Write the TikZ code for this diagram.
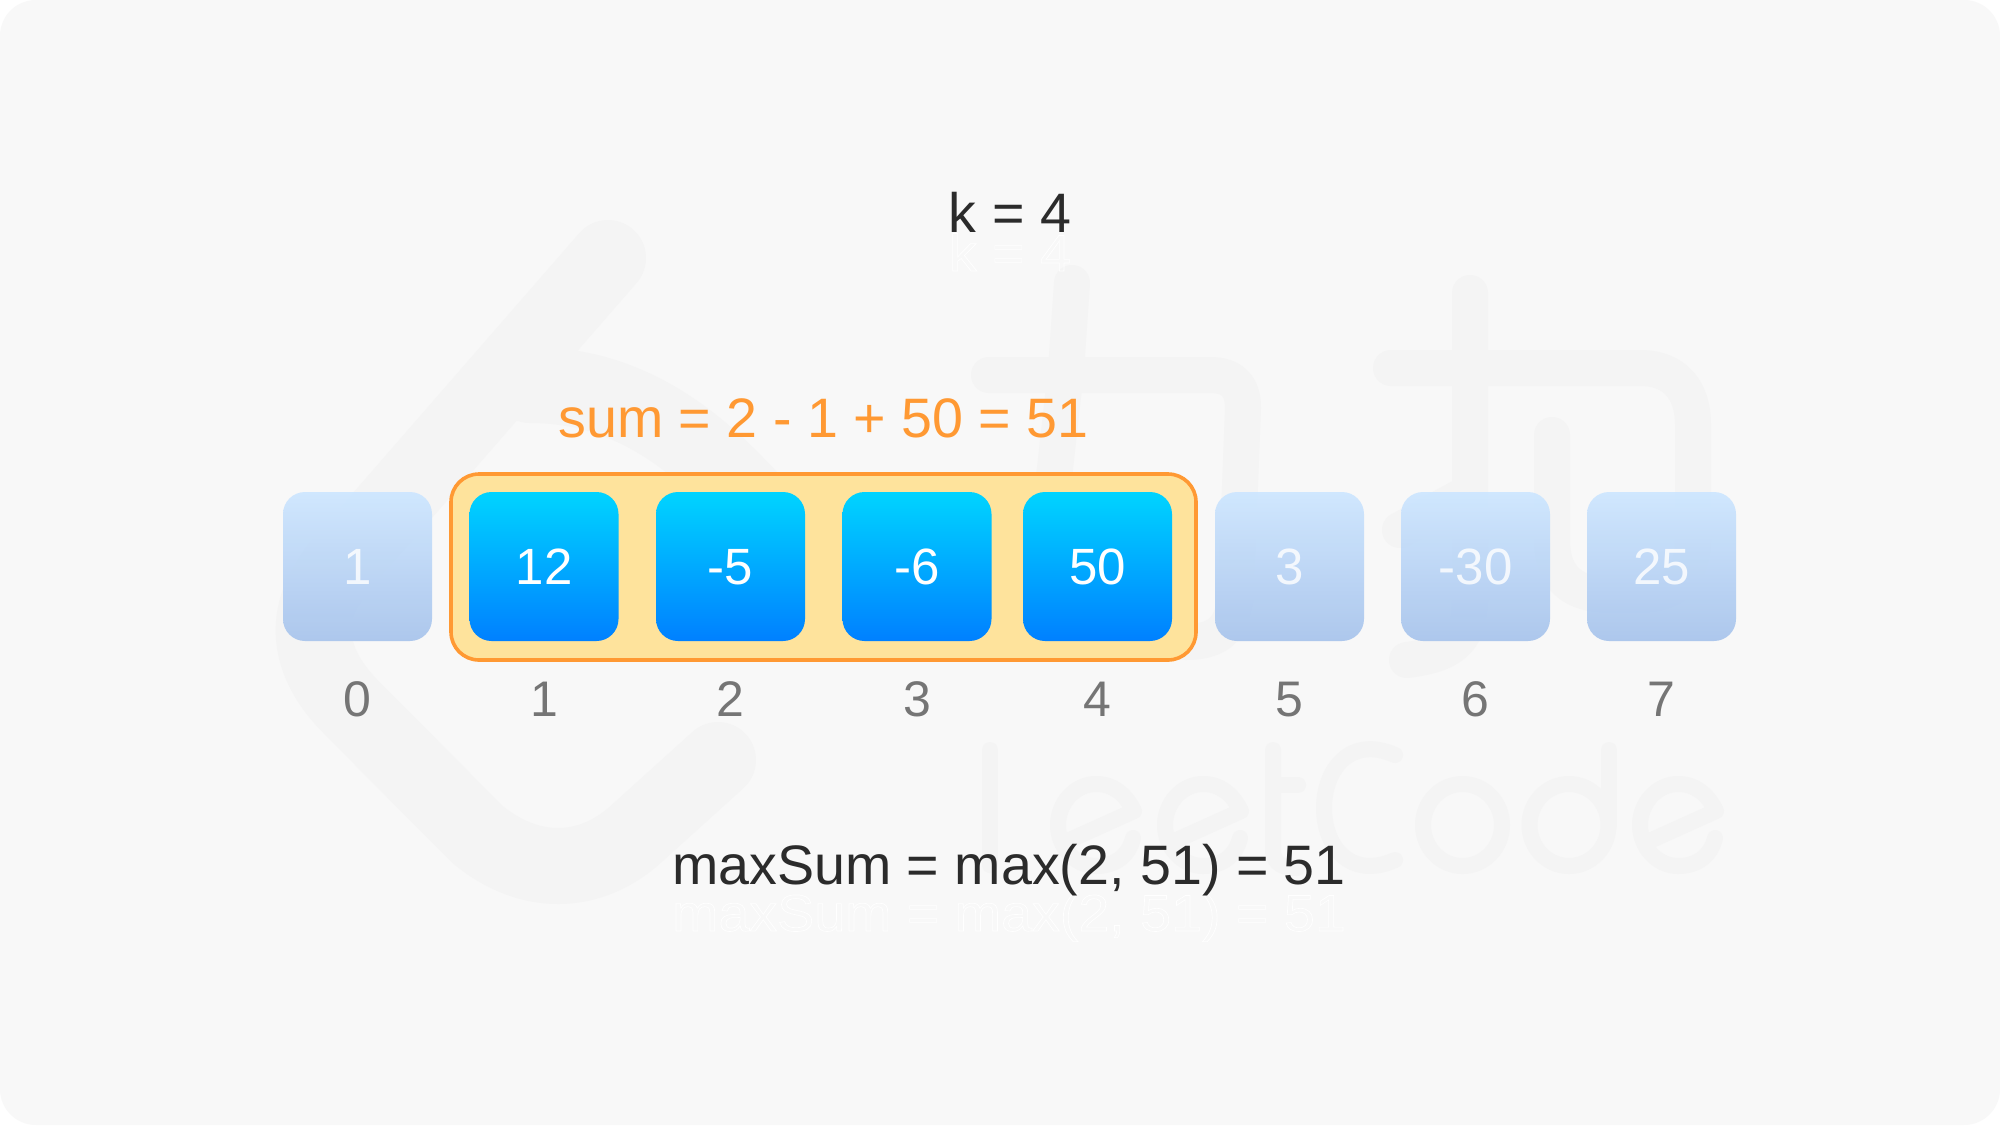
\documentclass[tikz,border=0pt]{standalone}
\usepackage{fontspec}
\setmainfont{Liberation Sans}
\definecolor{bgc}{HTML}{F8F8F8}
\definecolor{wm}{HTML}{F4F4F4}
\definecolor{ink}{HTML}{2B2B2B}
\definecolor{idx}{HTML}{757575}
\definecolor{org}{HTML}{FF9933}
\definecolor{win}{HTML}{FFE296}
\newcommand{\px}[1]{\fontsize{#1}{#1}\selectfont}
\newcommand{\ghosttext}[1]{\special{pdf:code q 1 Tr 0.35 w 1 1 1 RG}#1\special{pdf:code Q}}
\newcommand{\wmE}[2]{%
  \draw[wmthin] (#1-33,#2+18) -- (#1+38,#2-14)
    .. controls (#1+30,#2-30) and (#1+18,#2-41) .. (#1,#2-41)
    .. controls (#1-21,#2-41) and (#1-38,#2-22) .. (#1-38,#2)
    .. controls (#1-38,#2+22) and (#1-21,#2+41) .. (#1,#2+41)
    .. controls (#1+20,#2+41) and (#1+33,#2+30) .. (#1+37,#2+13);}
\tikzset{
  x=0.5pt,y=-0.5pt,
  wmlogo/.style={draw=wm,line width=38pt,line cap=round,line join=round},
  wmbig/.style={draw=wm,line width=18pt,line cap=round,line join=round},
  wmthin/.style={draw=wm,line width=8pt,line cap=round,line join=round},
  cell/.style={minimum width=74.5pt,minimum height=74.5pt,inner sep=0pt,rounded corners=11pt,
    shading=axis,shading angle=0,text=white,font=\px{25.5pt},text height=18pt,text depth=0pt},
  cellon/.style={cell,top color={rgb,255:red,0;green,212;blue,255},bottom color={rgb,255:red,0;green,128;blue,255}},
  celloff/.style={cell,top color={rgb,255:red,205;green,230;blue,255},bottom color={rgb,255:red,168;green,196;blue,236},
    fill opacity=.93,text opacity=.82},
  indexlabel/.style={text=idx,font=\px{25pt},inner sep=0pt,text height=18pt,text depth=0pt},
  title/.style={text=ink,font=\px{27.8pt},inner sep=0pt,anchor=base},
  ghost/.style={text=bgc,font=\px{27.8pt},inner sep=0pt,anchor=base,yscale=.93,transform shape},
  winbox/.style={draw=org,line width=1.8pt,fill=win,fill opacity=.93,rounded corners=14pt,inner sep=0pt}
}
\begin{document}
\begin{tikzpicture}
\useasboundingbox (0,0) rectangle (2000,1125);
\fill[white] (0,0) rectangle (2000,1125);
\fill[bgc,rounded corners=18pt] (0,0) rectangle (2000,1125);
% watermark: logo
\draw[wmlogo] (608,258) -- (345,560) .. controls (300,610) and (305,660) .. (350,706)
  -- (477,834) .. controls (530,878) and (590,875) .. (635,835) -- (718,760);
\draw[wmlogo] (530,385) .. controls (620,385) and (690,430) .. (760,510);
\draw[wmlogo] (530,622) -- (815,622);
% watermark: two big glyphs
\draw[wmbig] (989,375) -- (1210,375) .. controls (1232,375) and (1243,386) .. (1243,408)
  -- (1236,590) .. controls (1234,628) and (1220,642) .. (1185,642);
\draw[wmbig] (1072,283) -- (1066,370) -- (1057,450) .. controls (1048,540) and (1030,590) .. (1000,640);
\draw[wmbig] (1470,293) -- (1470,600) .. controls (1470,645) and (1445,655) .. (1407,660);
\draw[wmbig] (1400,530) -- (1470,492);
\draw[wmbig] (1552,435) -- (1552,540) .. controls (1552,580) and (1575,595) .. (1610,595)
  -- (1640,595) .. controls (1675,595) and (1693,575) .. (1693,540)
  -- (1693,425) .. controls (1693,390) and (1675,368) .. (1640,368) -- (1391,368);
% watermark: word
\draw[wmthin] (990,750) -- (990,865);
\wmE{1096}{825}
\wmE{1203}{825}
\draw[wmthin] (1273,750) -- (1273,850) .. controls (1273,865) and (1285,868) .. (1297,868);
\draw[wmthin] (1273,785) -- (1298,785);
\draw[wmthin] (1395,755) .. controls (1350,735) and (1324,770) .. (1324,808)
  .. controls (1324,846) and (1350,880) .. (1395,860);
\draw[wmthin] (1462.5,825) ellipse [x radius=39.5,y radius=41];
\draw[wmthin] (1569,825) ellipse [x radius=39.5,y radius=41];
\draw[wmthin] (1609,750) -- (1609,825);
\wmE{1678}{825}
% ghost copies of the titles
\node[ghost] (kghost) at (1010,271) {\ghosttext{k = 4}};
\node[ghost] (mghost) at (1009,931) {\ghosttext{maxSum = max(2, 51) = 51}};
% window
\node[winbox,minimum width=372.5pt,minimum height=93pt] (window) at (823.5,567) {};
% cells
\node[celloff] (c0) at (357.5,566.5) {1};
\node[cellon]  (c1) at (544,566.5) {12};
\node[cellon]  (c2) at (730.5,566.5) {-5};
\node[cellon]  (c3) at (917,566.5) {-6};
\node[cellon]  (c4) at (1097.5,566.5) {50};
\node[celloff] (c5) at (1289.5,566.5) {3};
\node[celloff] (c6) at (1475.5,566.5) {-30};
\node[celloff] (c7) at (1661.5,566.5) {25};
% indices
\node[indexlabel] (i0) at (357.5,698) {0};
\node[indexlabel] (i1) at (544,698) {1};
\node[indexlabel] (i2) at (730.5,698) {2};
\node[indexlabel] (i3) at (917,698) {3};
\node[indexlabel] (i4) at (1097.5,698) {4};
\node[indexlabel] (i5) at (1289.5,698) {5};
\node[indexlabel] (i6) at (1475.5,698) {6};
\node[indexlabel] (i7) at (1661.5,698) {7};
% titles
\node[title] (ktext) at (1010,232) {k = 4};
\node[title,text=org] (sumtext) at (823.5,437) {sum = 2 - 1 + 50 = 51};
\node[title] (maxtext) at (1009,884) {maxSum = max(2, 51) = 51};
\end{tikzpicture}
\end{document}
